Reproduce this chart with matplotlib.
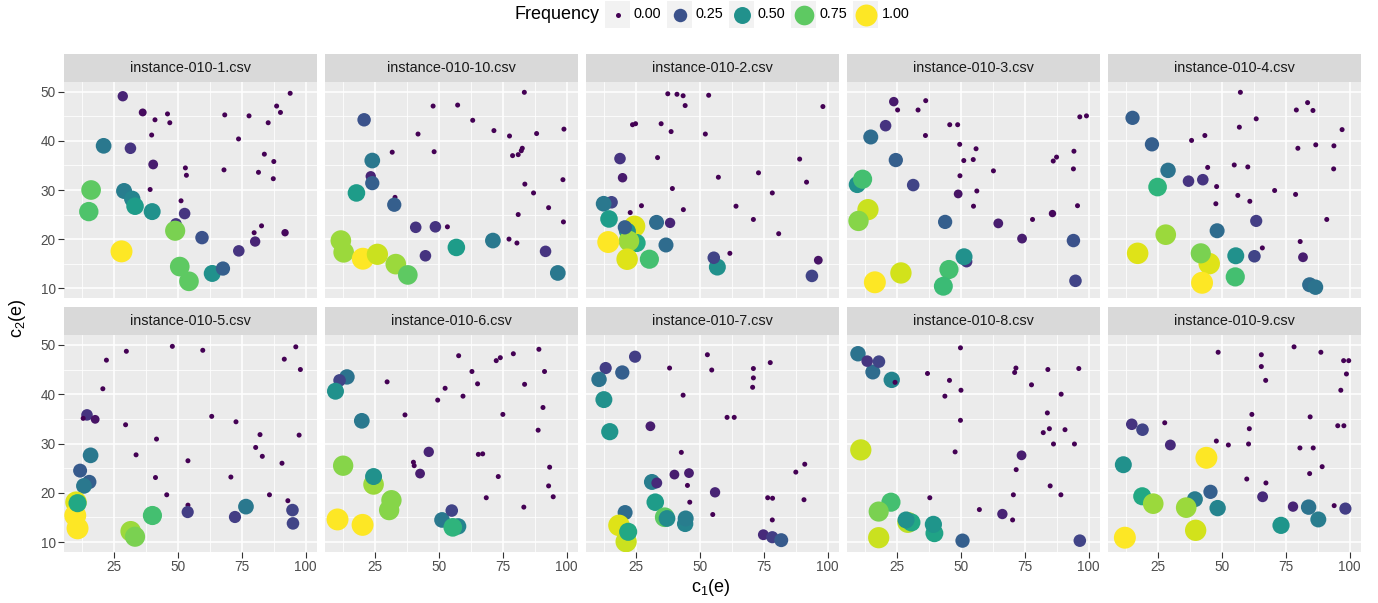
import numpy as np
import matplotlib.pyplot as plt
from matplotlib.patches import Rectangle

plt.rcParams['font.family'] = ['Liberation Sans', 'DejaVu Sans']
plt.rcParams['mathtext.fontset'] = 'custom'
plt.rcParams['mathtext.rm'] = 'Liberation Sans'
plt.rcParams['mathtext.it'] = 'Liberation Sans'

# facet titles in ggplot order (two rows of five)
panel_names = ['instance-010-1.csv', 'instance-010-10.csv', 'instance-010-2.csv',
               'instance-010-3.csv', 'instance-010-4.csv', 'instance-010-5.csv',
               'instance-010-6.csv', 'instance-010-7.csv', 'instance-010-8.csv',
               'instance-010-9.csv']

# (c1, c2, frequency)
pts_1 = [(28.5, 49.1, 0.1), (36.3, 45.8, 0.03), (41.1, 44.3, 0), (46.0, 45.5, 0), (46.9, 43.7, 0),
         (39.8, 41.2, 0), (21.0, 39.0, 0.4), (31.5, 38.5, 0.15), (40.4, 35.2, 0.08), (53.0, 34.5, 0),
         (53.4, 33.0, 0), (68.4, 45.3, 0), (77.9, 45.1, 0), (88.7, 47.1, 0), (90.2, 45.8, 0),
         (94.0, 49.7, 0), (85.4, 43.7, 0), (73.8, 40.4, 0), (83.9, 37.3, 0), (87.6, 35.8, 0),
         (81.6, 33.6, 0), (87.4, 32.3, 0), (68.1, 34.1, 0), (39.2, 30.1, 0), (51.3, 27.8, 0),
         (49.3, 23.1, 0.15), (16.1, 30.0, 0.75), (15.2, 25.6, 0.72), (29.0, 29.8, 0.42),
         (32.2, 28.2, 0.45), (33.3, 26.7, 0.55), (40.0, 25.6, 0.5), (52.7, 25.2, 0.15),
         (49.0, 21.7, 0.8), (59.5, 20.3, 0.25), (28.0, 17.5, 1.0), (50.8, 14.4, 0.75),
         (54.4, 11.4, 0.75), (63.5, 13.0, 0.5), (67.7, 14.0, 0.3), (73.9, 17.6, 0.15),
         (80.3, 19.5, 0.1), (79.9, 21.3, 0), (82.8, 22.7, 0), (92.0, 21.3, 0.02)]

pts_10 = [(83.5, 49.9, 0), (47.8, 47.1, 0), (57.4, 47.3, 0), (63.3, 44.2, 0), (20.8, 44.3, 0.25),
          (41.9, 41.4, 0), (71.6, 42.1, 0), (77.7, 41.0, 0), (88.3, 41.5, 0), (99.0, 42.4, 0),
          (31.8, 37.7, 0), (48.2, 37.8, 0), (78.9, 37.0, 0), (81.1, 37.2, 0), (82.3, 38.0, 0),
          (82.7, 38.5, 0), (24.0, 36.0, 0.4), (23.4, 32.8, 0.1), (24.0, 31.4, 0.3),
          (17.8, 29.4, 0.55), (32.9, 28.5, 0), (32.6, 27.0, 0.3), (83.7, 31.2, 0), (98.6, 32.1, 0),
          (87.1, 29.4, 0), (93.0, 26.4, 0), (81.1, 25.0, 0), (98.8, 23.5, 0), (41.0, 22.4, 0.15),
          (48.7, 22.5, 0.15), (53.4, 22.5, 0), (56.9, 18.3, 0.55), (71.2, 19.7, 0.4),
          (77.5, 20.0, 0), (80.6, 19.2, 0), (91.8, 17.5, 0.15), (96.6, 13.1, 0.4),
          (44.8, 16.6, 0.15), (11.7, 19.7, 0.85), (12.8, 17.3, 0.85), (20.3, 16.0, 1.0),
          (26.0, 16.9, 0.92), (33.2, 14.9, 0.85), (37.9, 12.7, 0.75)]

pts_2 = [(37.5, 49.6, 0), (41.1, 49.5, 0), (43.5, 49.2, 0), (53.5, 49.3, 0), (44.3, 47.2, 0),
         (98.2, 47.0, 0), (23.7, 43.3, 0), (24.9, 43.5, 0), (34.9, 43.5, 0), (38.8, 41.9, 0),
         (52.2, 41.4, 0), (18.8, 36.4, 0.15), (33.5, 36.6, 0), (89.1, 36.3, 0), (19.8, 32.5, 0.07),
         (57.3, 32.6, 0), (73.0, 33.5, 0), (91.8, 31.6, 0), (39.3, 30.3, 0), (78.4, 29.4, 0),
         (15.5, 27.5, 0.2), (12.4, 27.2, 0.4), (27.2, 26.8, 0), (22.8, 25.4, 0), (43.6, 26.0, 0),
         (64.2, 26.7, 0), (71.0, 24.0, 0), (80.9, 21.1, 0), (14.5, 24.1, 0.55), (24.5, 22.6, 0.95),
         (21.7, 21.6, 0.5), (25.3, 19.2, 0.6), (22.3, 19.6, 0.85), (20.7, 22.4, 0.3),
         (14.2, 19.4, 1.0), (33.1, 23.4, 0.35), (38.4, 23.3, 0.1), (36.8, 18.8, 0.35),
         (21.6, 15.9, 0.95), (30.3, 15.9, 0.7), (56.9, 14.3, 0.5), (55.5, 16.2, 0.2),
         (61.8, 17.1, 0), (96.4, 15.7, 0.05), (93.9, 12.5, 0.2)]

pts_3 = [(23.8, 48.0, 0.07), (36.3, 48.2, 0), (25.3, 46.3, 0), (33.3, 46.3, 0), (20.6, 43.1, 0.15),
         (45.7, 43.3, 0), (48.8, 43.3, 0), (14.8, 40.8, 0.35), (36.2, 41.1, 0), (49.6, 39.3, 0),
         (56.0, 38.4, 0), (51.2, 36.0, 0), (54.9, 36.2, 0), (24.6, 36.1, 0.3), (62.8, 33.9, 0),
         (49.7, 32.9, 0), (56.3, 29.8, 0), (49.0, 29.2, 0.05), (55.0, 26.7, 0), (31.4, 31.0, 0.2),
         (9.5, 31.1, 0.5), (11.6, 32.2, 0.7), (96.6, 44.9, 0), (99.2, 45.1, 0), (94.3, 37.9, 0),
         (87.5, 36.7, 0), (86.2, 35.9, 0), (94.1, 34.3, 0), (95.7, 26.8, 0), (85.9, 25.2, 0.02),
         (78.1, 24.0, 0), (64.7, 23.2, 0.08), (74.0, 20.1, 0.08), (43.9, 23.5, 0.3),
         (94.1, 19.7, 0.25), (13.7, 26.0, 0.92), (10.0, 23.7, 0.82), (52.3, 15.4, 0.15),
         (51.3, 16.4, 0.5), (45.4, 13.8, 0.7), (43.2, 10.4, 0.68), (26.6, 13.1, 0.93),
         (16.4, 11.2, 1.0), (94.9, 11.5, 0.2)]

pts_4 = [(57.3, 49.9, 0), (83.6, 47.8, 0), (79.2, 46.3, 0), (85.7, 46.2, 0), (63.5, 44.5, 0),
         (56.9, 42.8, 0), (97.1, 42.3, 0), (15.1, 44.7, 0.3), (22.7, 39.3, 0.3), (38.2, 40.1, 0),
         (43.4, 41.1, 0), (79.8, 38.5, 0), (86.8, 39.2, 0), (93.9, 39.0, 0), (29.0, 34.0, 0.38),
         (44.5, 34.6, 0), (54.9, 35.1, 0), (60.2, 34.7, 0), (93.8, 34.3, 0), (24.9, 30.6, 0.65),
         (37.0, 31.8, 0.15), (42.6, 32.1, 0.15), (48.0, 30.7, 0), (56.3, 28.9, 0), (61.0, 27.7, 0),
         (47.7, 27.2, 0), (70.7, 29.9, 0), (78.9, 29.1, 0), (91.1, 24.0, 0), (63.5, 23.7, 0.18),
         (48.2, 21.7, 0.35), (28.1, 20.9, 0.85), (17.1, 17.1, 0.95), (45.1, 15.0, 0.95),
         (41.8, 17.1, 0.8), (42.3, 11.1, 1.0), (55.5, 16.6, 0.5), (62.8, 16.5, 0.2),
         (65.9, 18.2, 0), (55.3, 12.3, 0.7), (80.7, 19.5, 0), (81.8, 16.3, 0.08),
         (84.4, 10.7, 0.35), (86.7, 10.2, 0.38)]

pts_5 = [(47.9, 49.7, 0), (29.9, 48.7, 0), (59.8, 48.9, 0), (22.1, 46.9, 0), (20.7, 41.1, 0),
         (96.2, 49.6, 0), (91.7, 47.1, 0), (98.0, 45.0, 0), (14.5, 35.8, 0.15), (13.0, 35.1, 0),
         (17.7, 34.9, 0.05), (29.6, 33.8, 0), (63.3, 35.5, 0), (72.8, 34.4, 0), (82.2, 31.8, 0),
         (97.5, 31.7, 0), (41.7, 30.9, 0), (80.5, 29.2, 0), (83.1, 27.4, 0), (33.7, 27.7, 0),
         (54.0, 26.5, 0), (90.8, 26.0, 0), (15.9, 27.6, 0.4), (11.8, 24.5, 0.28), (15.4, 22.2, 0.3),
         (13.3, 21.4, 0.4), (41.3, 23.1, 0), (70.8, 23.2, 0), (45.7, 19.6, 0), (85.9, 19.6, 0),
         (54.0, 17.5, 0), (53.9, 16.1, 0.18), (72.4, 15.1, 0.18), (76.7, 17.2, 0.4),
         (93.1, 18.4, 0), (94.9, 16.5, 0.2), (95.1, 13.8, 0.2), (10.2, 18.1, 0.95),
         (9.9, 15.4, 1.0), (10.8, 12.8, 1.0), (10.8, 17.9, 0.6), (31.6, 12.2, 0.85),
         (33.3, 11.1, 0.8), (40.1, 15.4, 0.7)]

pts_6 = [(57.8, 47.8, 0), (72.5, 46.8, 0), (74.1, 47.4, 0), (79.2, 48.2, 0), (89.2, 49.1, 0),
         (63.0, 44.6, 0), (91.4, 44.6, 0), (29.8, 42.5, 0), (52.5, 41.2, 0), (65.2, 42.1, 0),
         (83.6, 42.0, 0), (59.5, 39.6, 0), (49.6, 38.8, 0), (90.8, 37.3, 0), (75.1, 35.9, 0),
         (36.8, 35.8, 0), (88.9, 32.7, 0), (14.1, 43.5, 0.38), (11.2, 42.8, 0.2), (9.6, 40.6, 0.5),
         (19.9, 34.6, 0.4), (46.1, 28.3, 0.1), (65.5, 27.8, 0), (67.2, 27.9, 0), (40.1, 26.2, 0),
         (40.4, 25.5, 0), (42.7, 23.9, 0.08), (73.3, 23.3, 0), (93.4, 25.2, 0), (93.0, 21.4, 0),
         (94.8, 19.2, 0), (68.6, 19.0, 0), (83.3, 17.1, 0), (12.6, 25.5, 0.82),
         (24.5, 21.7, 0.85), (24.5, 23.3, 0.5), (31.5, 18.5, 0.82), (30.6, 16.5, 0.82),
         (10.4, 14.6, 1.0), (20.2, 13.5, 1.0), (51.3, 14.5, 0.4), (57.6, 13.2, 0.45),
         (55.5, 13.0, 0.65), (55.1, 16.4, 0.2)]

pts_7 = [(53.0, 48.0, 0), (77.6, 46.4, 0), (38.2, 45.3, 0), (54.7, 44.9, 0), (71.0, 45.2, 0),
         (71.0, 43.3, 0), (70.7, 41.4, 0), (43.5, 39.8, 0), (60.7, 35.3, 0), (63.5, 35.3, 0),
         (24.7, 47.6, 0.18), (13.2, 45.3, 0.18), (19.7, 44.4, 0.3), (10.6, 43.0, 0.38),
         (12.5, 38.9, 0.5), (14.8, 32.4, 0.52), (30.7, 33.5, 0.08), (42.8, 28.2, 0),
         (91.1, 25.8, 0), (87.6, 24.2, 0), (40.1, 23.7, 0.08), (45.8, 24.0, 0.08), (45.2, 21.5, 0),
         (56.0, 20.1, 0.1), (46.1, 18.1, 0), (76.6, 19.0, 0), (78.5, 18.9, 0), (90.8, 18.6, 0),
         (78.4, 14.5, 0), (55.1, 15.6, 0), (31.3, 22.2, 0.42), (33.2, 22.0, 0.12),
         (32.6, 18.1, 0.55), (20.8, 16.0, 0.35), (18.4, 13.4, 0.95), (21.2, 10.1, 0.92),
         (22.0, 12.1, 0.6), (36.3, 15.05, 0.75), (37.2, 14.8, 0.48), (44.3, 13.7, 0.45),
         (44.5, 14.8, 0.42), (74.9, 11.5, 0.12), (78.4, 11.0, 0.18), (81.9, 10.4, 0.28)]

pts_8 = [(49.9, 49.4, 0), (71.6, 45.3, 0), (71.1, 44.4, 0), (84.1, 45.0, 0), (96.2, 45.2, 0),
         (37.0, 44.2, 0), (45.6, 42.8, 0), (50.1, 40.8, 0), (43.8, 39.6, 0), (77.7, 41.9, 0),
         (89.3, 40.0, 0), (49.9, 34.7, 0), (83.9, 36.2, 0), (84.7, 33.0, 0), (82.3, 32.2, 0),
         (90.8, 32.8, 0), (86.3, 29.9, 0), (94.5, 29.9, 0), (47.8, 28.3, 0), (73.8, 27.6, 0.08),
         (71.7, 24.7, 0), (85.0, 21.4, 0), (70.6, 19.6, 0), (89.2, 19.6, 0), (37.9, 19.0, 0),
         (57.3, 16.6, 0), (66.3, 15.7, 0.1), (70.3, 14.5, 0), (9.8, 48.2, 0.38),
         (15.6, 44.5, 0.35), (13.4, 46.7, 0.15), (18.0, 46.6, 0.2), (23.0, 42.9, 0.45),
         (24.3, 42.4, 0), (10.9, 28.7, 0.92), (22.7, 18.1, 0.7), (17.9, 16.2, 0.8),
         (17.9, 10.9, 0.92), (29.3, 14.0, 0.9), (30.7, 14.0, 0.6), (28.6, 14.5, 0.5),
         (39.7, 11.8, 0.58), (39.3, 13.6, 0.52), (50.7, 10.3, 0.3), (96.6, 10.3, 0.2)]

pts_9 = [(78.3, 49.6, 0), (48.6, 48.5, 0), (65.5, 48.0, 0), (88.8, 48.5, 0), (65.5, 45.6, 0),
         (97.7, 46.8, 0), (99.7, 46.8, 0), (67.2, 42.8, 0), (98.8, 44.1, 0), (96.6, 40.8, 0),
         (61.8, 35.9, 0), (84.6, 35.4, 0), (95.4, 33.6, 0), (97.8, 33.6, 0), (60.8, 33.0, 0),
         (27.7, 34.2, 0), (14.8, 33.9, 0.15), (19.0, 32.8, 0.2), (29.9, 29.7, 0.12),
         (47.9, 30.5, 0), (52.6, 29.7, 0), (60.5, 29.9, 0), (80.6, 29.1, 0), (85.8, 29.1, 0),
         (89.3, 25.3, 0), (84.4, 23.9, 0), (59.8, 22.8, 0), (67.3, 22.0, 0), (11.5, 25.7, 0.5),
         (44.0, 27.1, 1.0), (18.9, 19.3, 0.6), (23.2, 17.8, 0.85), (39.5, 18.7, 0.42),
         (45.6, 20.2, 0.3), (48.4, 16.9, 0.45), (36.1, 17.0, 0.85), (39.8, 12.4, 0.93),
         (66.0, 19.2, 0.12), (77.9, 17.2, 0.1), (84.0, 17.1, 0.38), (94.0, 17.4, 0),
         (98.4, 16.8, 0.18), (87.8, 14.6, 0.42), (73.2, 13.4, 0.52), (12.1, 10.9, 1.0)]

panel_points = [pts_1, pts_10, pts_2, pts_3, pts_4, pts_5, pts_6, pts_7, pts_8, pts_9]

x_ticks = [25, 50, 75, 100]
x_minor = [12.5, 37.5, 62.5, 87.5]
y_ticks = [10, 20, 30, 40, 50]
y_minor = [15, 25, 35, 45]
legend_breaks = [0.0, 0.25, 0.5, 0.75, 1.0]


def point_size(f):
    # ggplot scale_size: diameter grows with sqrt of the value
    return (3.6 + 12.2 * np.sqrt(f)) ** 2


W, H = 1378, 603
fig = plt.figure(figsize=(W / 100, H / 100), dpi=100)

col_left = [64, 325, 586, 847, 1108]
pw = 253
rows = [(54, 82, 298), (307, 335, 552)]  # strip top, panel top, panel bottom
cmap = plt.get_cmap('viridis')

for k, name in enumerate(panel_names):
    r, c = divmod(k, 5)
    st, pt, pb = rows[r]
    ax = fig.add_axes([col_left[c] / W, 1 - pb / H, pw / W, (pb - pt) / H])
    ax.set_facecolor('#EBEBEB')
    d = np.array(panel_points[k])
    ax.scatter(d[:, 0], d[:, 1], s=point_size(d[:, 2]), c=d[:, 2], cmap=cmap,
               vmin=0, vmax=1, linewidths=0, zorder=3)
    ax.set_xlim(5.5, 104.5)
    ax.set_ylim(8, 52)
    ax.set_xticks(x_ticks)
    ax.set_xticks(x_minor, minor=True)
    ax.set_yticks(y_ticks)
    ax.set_yticks(y_minor, minor=True)
    ax.grid(which='major', color='white', lw=1.1)
    ax.grid(which='minor', color='white', lw=0.55)
    ax.set_axisbelow(True)
    for s in ax.spines.values():
        s.set_visible(False)
    ax.tick_params(which='both', length=0, labelbottom=False, labelleft=False)
    if c == 0:
        ax.tick_params(axis='y', which='major', length=4, width=0.8, color='#333333',
                       labelleft=True, labelsize=9.8, labelcolor='#4D4D4D', pad=2)
    if r == 1:
        ax.tick_params(axis='x', which='major', length=4, width=0.8, color='#333333',
                       labelbottom=True, labelsize=9.8, labelcolor='#4D4D4D', pad=2)

    sax = fig.add_axes([col_left[c] / W, 1 - pt / H, pw / W, (pt - st) / H])
    sax.set_facecolor('#D9D9D9')
    sax.set_xticks([])
    sax.set_yticks([])
    for s in sax.spines.values():
        s.set_visible(False)
    sax.text(0.5, 0.5, name, ha='center', va='center', fontsize=10.4, color='#1A1A1A',
             transform=sax.transAxes)

fig.text(711 / W, 1 - 588 / H, 'c$_1$(e)', ha='center', va='center', fontsize=13)
fig.text(17 / W, 1 - 318 / H, 'c$_2$(e)', ha='center', va='center', fontsize=13,
         rotation=90)

# legend on top, drawn in pixel coordinates
lax = fig.add_axes([0, 0, 1, 1], zorder=-1)
lax.set_xlim(0, W)
lax.set_ylim(H, 0)
lax.axis('off')
lax.text(515, 14.5, 'Frequency', ha='left', va='center', fontsize=13)
for i, b in enumerate(legend_breaks):
    kx = 605 + i * 62
    lax.add_patch(Rectangle((kx, 1), 25, 27, facecolor='#F2F2F2', edgecolor='none'))
    lax.scatter([kx + 12.5], [14.5], s=point_size(b), color=cmap(b), linewidths=0)
    lax.text(kx + 29, 14.5, f'{b:.2f}', ha='left', va='center', fontsize=10.4)

fig.savefig('out.png', dpi=100)
